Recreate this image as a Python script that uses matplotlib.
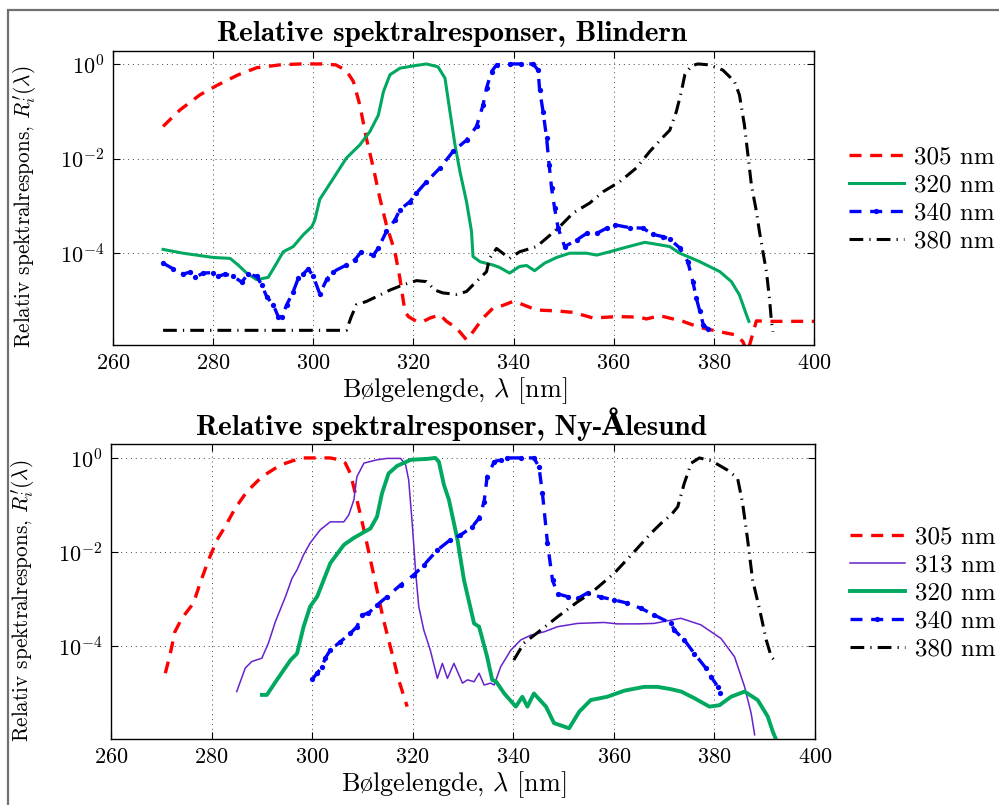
import numpy as np
import matplotlib
matplotlib.use("Agg")
import matplotlib.pyplot as plt
from matplotlib.patches import Rectangle

plt.rcParams['font.family'] = ['cmr10', 'DejaVu Serif']
plt.rcParams['mathtext.fontset'] = 'cm'
plt.rcParams['axes.formatter.use_mathtext'] = True

# ---------------- data: Blindern (log10 of relative response) ----------------
bl_305_x = [270, 273.4, 277.4, 281, 285, 288.7, 293.3, 297.3, 302, 304.5, 306.6, 308, 309.3, 310.6, 312, 313.3,
            314.6, 316.3, 317.3, 318.3, 319, 320.6, 322, 323.3, 325.3, 326.6, 328.6, 330.6, 331.9, 333.9, 335.9,
            337.2, 339.9, 341.2, 344.6, 348.6, 351.9, 355.9, 360.5, 365.2, 366.5, 369.2, 373.8, 377.2, 381.2,
            384.5, 385.8, 386.7, 388.5, 391.1, 400]
bl_305_y = [-1.32, -0.97, -0.65, -0.44, -0.23, -0.08, -0.02, 0, 0, -0.02, -0.14, -0.37, -0.87, -1.57, -2.2, -2.84,
            -3.4, -3.97, -4.53, -5.23, -5.34, -5.44, -5.44, -5.37, -5.3, -5.44, -5.58, -5.83, -5.66, -5.37, -5.16,
            -5.13, -5.02, -5.06, -5.2, -5.22, -5.25, -5.37, -5.34, -5.35, -5.39, -5.32, -5.44, -5.57, -5.66,
            -5.73, -5.87, -6.1, -5.43, -5.44, -5.44]

bl_320_x = [270, 274, 280, 283.4, 285, 286.7, 288.7, 291, 292.3, 294, 296, 298, 299.7, 300.3, 301.3, 304, 306.6,
            309.3, 311.3, 313, 314, 315.3, 317.3, 320, 322.6, 324.9, 326.3, 327.3, 328.3, 329.3, 330.6, 331.6,
            331.9, 333.3, 335.9, 337.2, 339.2, 341.2, 342.6, 344.2, 346.2, 348.6, 351.2, 354.6, 356.6, 359.2,
            361.9, 366.2, 368.5, 371.2, 373.2, 377.2, 381.2, 383.5, 385.1, 386.5, 387]
bl_320_y = [-3.92, -4.0, -4.09, -4.11, -4.25, -4.42, -4.56, -4.51, -4.28, -3.97, -3.86, -3.61, -3.44, -3.3, -2.86,
            -2.42, -1.99, -1.71, -1.43, -1.08, -0.59, -0.23, -0.09, -0.04, 0, -0.06, -0.3, -1.01, -1.71, -2.28,
            -2.91, -3.54, -4.07, -4.18, -4.25, -4.3, -4.42, -4.28, -4.26, -4.37, -4.21, -4.09, -4.0, -4.0, -4.04,
            -3.97, -3.89, -3.77, -3.81, -3.86, -4.0, -4.18, -4.39, -4.6, -4.88, -5.3, -5.44]

bl_340_x = [270, 272, 274, 275.4, 276.4, 278, 280, 281, 282.4, 284, 285.7, 287, 288.7, 289.7, 290.7, 292, 293,
            293.7, 294.7, 296, 297, 298, 299, 300, 301.3, 302.7, 304, 306.6, 308.3, 309.6, 312, 313, 314.6, 316.3,
            317.3, 319.3, 320.6, 322.6, 325.3, 327.9, 330.6, 332.6, 333.9, 334.6, 335.6, 336.6, 339.2, 341.5,
            343.9, 344.9, 345.2, 345.9, 346.6, 347.1, 347.6, 348.2, 348.9, 350.2, 352.6, 354.6, 356.6, 358.6,
            360.2, 363.2, 365.8, 367.8, 369.8, 371.2, 373.2, 374.8, 375.8, 376.5, 377.2, 377.9, 378.8]
bl_340_y = [-4.21, -4.33, -4.44, -4.4, -4.51, -4.42, -4.41, -4.49, -4.44, -4.49, -4.61, -4.44, -4.49, -4.67, -4.92,
            -5.09, -5.34, -5.34, -5.09, -4.81, -4.53, -4.44, -4.33, -4.49, -4.86, -4.55, -4.39, -4.25, -4.14,
            -3.97, -4.04, -3.89, -3.54, -3.3, -3.08, -2.91, -2.73, -2.49, -2.2, -1.85, -1.61, -1.32, -0.87, -0.51,
            -0.16, -0.02, 0, 0, 0, -0.13, -0.55, -1.01, -1.57, -2.13, -2.63, -3.05, -3.47, -3.86, -3.72, -3.58,
            -3.58, -3.47, -3.4, -3.46, -3.47, -3.6, -3.65, -3.7, -3.89, -4.18, -4.6, -4.95, -5.23, -5.51, -5.6]

bl_380_x = [270, 306.6, 307.6, 308.6, 310.6, 312.6, 315.3, 317.9, 320.6, 322.6, 324.3, 325.9, 328.6, 330.6, 331.9,
            334.6, 335.2, 336.6, 339.2, 341.2, 344.6, 346.6, 349.2, 351.9, 355.2, 357.9, 361.2, 364.5, 367.2,
            369.9, 371.2, 372.5, 373.5, 374.2, 375.5, 376.8, 379.2, 381.8, 384.1, 385.1, 386.1, 386.8, 387.5,
            388.5, 389.1, 389.8, 390.5, 391.1, 391.5, 391.8]
bl_380_y = [-5.63, -5.63, -5.34, -5.09, -5.02, -4.92, -4.78, -4.67, -4.58, -4.6, -4.78, -4.84, -4.87, -4.81, -4.67,
            -4.39, -4.11, -3.9, -4.11, -3.97, -3.86, -3.68, -3.44, -3.15, -2.94, -2.7, -2.49, -2.2, -1.85, -1.54,
            -1.4, -1.01, -0.59, -0.23, -0.04, 0, -0.02, -0.13, -0.37, -0.65, -1.29, -1.92, -2.56, -3.12, -3.54,
            -3.97, -4.39, -4.95, -5.44, -5.66]

# ---------------- data: Ny-Aalesund ----------------
ny_305_x = [270.8, 271.8, 272.7, 274.1, 276.4, 277.7, 279.4, 281.1, 282.7, 284.7, 287, 290, 293.7, 297, 298.3,
            303.6, 305.5, 306.6, 307.6, 308.9, 310.3, 311.6, 312.9, 314.2, 315.9, 317.2, 318.9]
ny_305_y = [-4.58, -4.16, -3.7, -3.41, -3.09, -2.67, -2.17, -1.74, -1.46, -1.07, -0.72, -0.4, -0.15, -0.03, 0,
            0, -0.04, -0.11, -0.33, -0.89, -1.53, -2.17, -2.81, -3.45, -4.16, -4.72, -5.29]

ny_313_x = [285, 286.7, 288, 290, 291.3, 292.7, 294.7, 296, 297, 298.3, 299.6, 301.6, 303.6, 306.3, 307.3, 308.3,
            308.9, 310.3, 312.9, 314.9, 317.6, 318.6, 319.2, 319.9, 320.6, 321.2, 322.2, 323.5, 324.9, 325.9,
            326.9, 328.2, 329.9, 330.9, 332.2, 333.2, 334.2, 335.5, 336.2, 337.5, 339.5, 341.5, 343.5, 346.1,
            348.8, 352.8, 358.1, 360.7, 364.7, 368, 371.4, 373.3, 377.3, 381.3, 384, 386, 387.3, 388]
ny_313_y = [-4.97, -4.47, -4.33, -4.26, -3.94, -3.48, -2.95, -2.56, -2.38, -2.06, -1.81, -1.53, -1.36, -1.36,
            -1.21, -0.89, -0.4, -0.11, -0.04, -0.01, -0.01, -0.15, -0.47, -1.39, -2.45, -3.16, -3.66, -4.09,
            -4.69, -4.37, -4.69, -4.37, -4.79, -4.72, -4.76, -4.58, -4.83, -4.79, -4.83, -4.44, -4.09, -3.87,
            -3.77, -3.7, -3.59, -3.52, -3.5, -3.53, -3.53, -3.52, -3.45, -3.41, -3.55, -3.84, -4.23, -4.87,
            -5.43, -5.89]

ny_320_x = [290, 291, 293, 295.7, 297, 298.3, 299.6, 301, 303.6, 306.3, 308.3, 311.6, 312.9, 313.9, 315.2, 316.9,
            319.6, 322.9, 324.5, 325.2, 326.2, 327.2, 328.9, 330.2, 332.2, 333.2, 334.8, 335.8, 336.6, 338.2,
            340.5, 341.8, 342.8, 344.1, 346.5, 348.1, 351.1, 353.1, 355.4, 358.7, 362.1, 366, 368.7, 371.4,
            373.4, 376, 379, 381, 383.3, 386, 388.6, 390.6, 391.6, 392.3]
ny_320_y = [-5.04, -5.04, -4.72, -4.3, -4.16, -3.59, -3.16, -2.95, -2.24, -1.85, -1.7, -1.5, -1.25, -0.75, -0.33,
            -0.17, -0.04, -0.02, 0, -0.08, -0.57, -0.89, -1.74, -2.6, -3.52, -3.59, -4.23, -4.72, -4.76, -5.01,
            -5.29, -5.08, -5.29, -5.01, -5.29, -5.64, -5.75, -5.4, -5.15, -5.08, -4.95, -4.87, -4.87, -4.92,
            -4.97, -5.11, -5.29, -5.26, -5.08, -4.97, -5.15, -5.5, -5.82, -6.0]

ny_340_x = [300, 301, 302, 302.6, 303.6, 305.6, 307.6, 308.9, 309.9, 311.2, 312.9, 314.9, 317.6, 320.2, 322.2,
            324.9, 327.5, 329.5, 331.8, 333.2, 334.2, 334.8, 336.2, 337.5, 338.8, 341.5, 344.1, 345.1, 345.8,
            346.8, 347.8, 348.8, 350.8, 352.8, 354.8, 357.4, 360.1, 362.7, 365.4, 368, 371.4, 372, 374, 376,
            378.3, 379.3, 380.7, 381.1]
ny_340_y = [-4.71, -4.58, -4.44, -4.26, -4.09, -3.91, -3.73, -3.59, -3.34, -3.3, -3.13, -2.95, -2.7, -2.49, -2.28,
            -1.96, -1.74, -1.64, -1.47, -1.28, -0.93, -0.4, -0.08, -0.04, 0, 0, 0, -0.19, -0.75, -1.81, -2.6,
            -2.89, -2.95, -2.99, -2.87, -2.96, -3.02, -3.09, -3.2, -3.34, -3.52, -3.66, -3.87, -4.16, -4.47,
            -4.65, -4.87, -5.01]

ny_380_x = [340.1, 342.1, 345.5, 348.8, 352.8, 355.4, 360.1, 364.1, 367.4, 369.4, 371.4, 372.7, 374, 375.4, 377,
            379.4, 382.6, 384.6, 385.6, 386.6, 387.6, 389, 390.3, 391.3, 391.9]
ny_380_y = [-4.3, -3.94, -3.66, -3.38, -3.06, -2.88, -2.45, -1.99, -1.6, -1.39, -1.21, -1.04, -0.54, -0.11, 0,
            -0.06, -0.26, -0.43, -0.96, -1.74, -2.6, -3.23, -3.87, -4.23, -4.3]

titles = ["Relative spektralresponser, Blindern", "Relative spektralresponser, Ny-Ålesund"]
# "\u00bf" is the slot of the o-slash glyph in matplotlib's BaKoMa cmr10 font
xlabel = "B\u00bflgelengde, $\\lambda$ [nm]"
ylabel = r"Relativ spektralrespons, $R_i'(\lambda)$"
xticks = [260, 280, 300, 320, 340, 360, 380, 400]
yticks = [1e-4, 1e-2, 1e0]

RED = '#ff0000'
GREEN = '#00a860'
BLUE = '#0000ff'
PURPLE = '#6622cc'
BLACK = '#000000'

styles = {
    '305': dict(color=RED, lw=2.4, dashes=(3.6, 2.6)),
    '313': dict(color=PURPLE, lw=1.1, linestyle='-'),
    '320': dict(color=GREEN, lw=2.2, linestyle='-'),
    '340': dict(color=BLUE, lw=2.4, dashes=(3.6, 2.6), marker='o', markersize=3.8, markeredgewidth=0),
    '380': dict(color=BLACK, lw=2.2, dashes=(4.5, 2.0, 0.4, 2.0)),
}

W, H = 999, 805
fig = plt.figure(figsize=(W / 100, H / 100), dpi=100)

fig.patches.append(Rectangle((8 / W, -0.05), 1.2, 1 - 10 / H + 0.05, transform=fig.transFigure,
                             fill=False, edgecolor='#707070', lw=1.6))

ax1 = fig.add_axes([113 / W, 1 - 345 / H, 701 / W, (345 - 50.7) / H])
ax2 = fig.add_axes([111 / W, 1 - 739.3 / H, 704 / W, (739.3 - 444.3) / H])

def p(ax, x, y, key, label, lw=None):
    kw = dict(styles[key])
    if lw is not None:
        kw['lw'] = lw
    ax.plot(x, 10 ** np.array(y), label=label, **kw)

p(ax1, bl_305_x, bl_305_y, '305', '305 nm')
p(ax1, bl_320_x, bl_320_y, '320', '320 nm')
p(ax1, bl_340_x, bl_340_y, '340', '340 nm')
p(ax1, bl_380_x, bl_380_y, '380', '380 nm')

p(ax2, ny_305_x, ny_305_y, '305', '305 nm')
p(ax2, ny_313_x, ny_313_y, '313', '313 nm')
p(ax2, ny_320_x, ny_320_y, '320', '320 nm', lw=2.8)
p(ax2, ny_340_x, ny_340_y, '340', '340 nm')
p(ax2, ny_380_x, ny_380_y, '380', '380 nm')

ylims = [(10 ** -5.94, 10 ** 0.28), (10 ** -5.985, 10 ** 0.29)]
FS = 16
for i, ax in enumerate([ax1, ax2]):
    ax.set_yscale('log')
    ax.set_xlim(260, 400)
    ax.set_ylim(*ylims[i])
    ax.set_xticks(xticks)
    ax.set_yticks(yticks)
    ax.minorticks_off()
    ax.tick_params(direction='in', top=True, right=True, length=5, width=0.8, labelsize=FS, pad=6)
    ax.grid(True, which='major', color='#444444', linestyle=(0, (1, 4)), lw=0.7)
    for s in ax.spines.values():
        s.set_linewidth(1.0)
    ax.set_title(titles[i], fontsize=21, fontfamily=['cmb10', 'DejaVu Serif'], fontweight='bold',
                 x=0.484, pad=7)
    ax.set_xlabel(xlabel, fontsize=18.8)
    ax.xaxis.set_label_coords(0.487, -0.103)
    ax.set_ylabel(ylabel, fontsize=15.3)
    ax.yaxis.set_label_coords(-0.105, 0.47)
    leg = ax.legend(loc='center left', bbox_to_anchor=(1.035, 0.494), frameon=False, fontsize=18,
                    handlelength=2.2, handletextpad=0.4, labelspacing=0.22, borderaxespad=0)

fig.savefig('out.png', dpi=100)
